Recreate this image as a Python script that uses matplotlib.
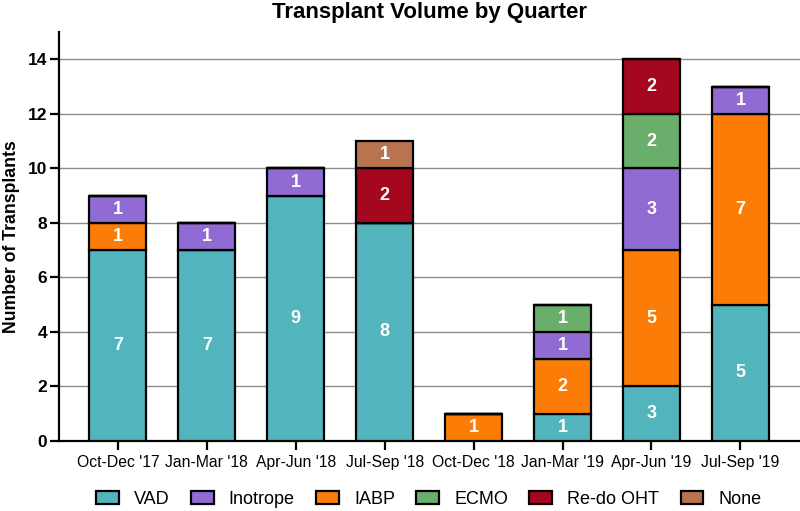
import matplotlib
matplotlib.use("Agg")
import matplotlib.pyplot as plt
import numpy as np

plt.rcParams['font.family'] = ['Liberation Sans', 'DejaVu Sans']

quarters = ["Oct-Dec '17", "Jan-Mar '18", "Apr-Jun '18", "Jul-Sep '18",
            "Oct-Dec '18", "Jan-Mar '19", "Apr-Jun '19", "Jul-Sep '19"]
vad = [7, 7, 9, 8, 0, 1, 2, 5]
iabp = [1, 0, 0, 0, 1, 2, 5, 7]
inotrope = [1, 1, 1, 0, 0, 1, 3, 1]
ecmo = [0, 0, 0, 0, 0, 1, 2, 0]
redo = [0, 0, 0, 2, 0, 0, 2, 0]
none = [0, 0, 0, 1, 0, 0, 0, 0]
# segment labels as printed in the original (Apr-Jun '19 VAD labelled 3)
vad_labels = ["7", "7", "9", "8", "", "1", "3", "5"]

series = [("VAD", vad, "#52b5bd"),
          ("IABP", iabp, "#fb7d07"),
          ("Inotrope", inotrope, "#8f6bd3"),
          ("ECMO", ecmo, "#6aae6b"),
          ("Re-do OHT", redo, "#a4071e"),
          ("None", none, "#b8744e")]
legend_order = ["VAD", "Inotrope", "IABP", "ECMO", "Re-do OHT", "None"]

fig = plt.figure(figsize=(8, 5.11), dpi=100)
ax = fig.add_axes([0.074, 0.137, 0.926, 0.800])

x = np.arange(len(quarters))
bottom = np.zeros(len(quarters))
handles = {}
for name, vals, color in series:
    vals = np.array(vals, dtype=float)
    bars = ax.bar(x, vals, width=0.64, bottom=bottom, color=color,
                  edgecolor="black", linewidth=1.6, zorder=3, label=name)
    handles[name] = bars
    for i, v in enumerate(vals):
        if v > 0:
            txt = vad_labels[i] if name == "VAD" else str(int(v))
            ax.text(x[i], bottom[i] + v / 2, txt, ha="center", va="center",
                    color="white", fontsize=13, fontweight="bold", zorder=4)
    bottom += vals

ax.set_xlim(-0.66, 7.67)
ax.set_ylim(0, 15)
ax.set_yticks(range(0, 15, 2))
ax.yaxis.grid(True, color="#8c8c8c", linewidth=1.0, zorder=0)
ax.set_axisbelow(True)
for s in ["top", "right"]:
    ax.spines[s].set_visible(False)
ax.spines["left"].set_linewidth(1.6)
ax.spines["bottom"].set_linewidth(1.6)
ax.tick_params(axis="both", width=1.6, length=6.5, color="black")
ax.tick_params(axis="y", pad=2)
ax.set_xticks(x)
ax.set_xticklabels(quarters, fontsize=11.3)
for lab in ax.get_yticklabels():
    lab.set_fontweight("bold")
    lab.set_fontsize(12.5)
ax.set_ylabel("Number of Transplants", fontsize=12.7, fontweight="bold", labelpad=6)
ax.set_title("Transplant Volume by Quarter", fontsize=16, fontweight="bold", pad=10)

leg = fig.legend([handles[n] for n in legend_order], legend_order,
                 loc="center", bbox_to_anchor=(0.536, 0.023), ncol=6,
                 frameon=False, fontsize=13, handlelength=1.27, handleheight=0.7,
                 columnspacing=1.18, handletextpad=0.83)

fig.savefig("out.png", dpi=100)
